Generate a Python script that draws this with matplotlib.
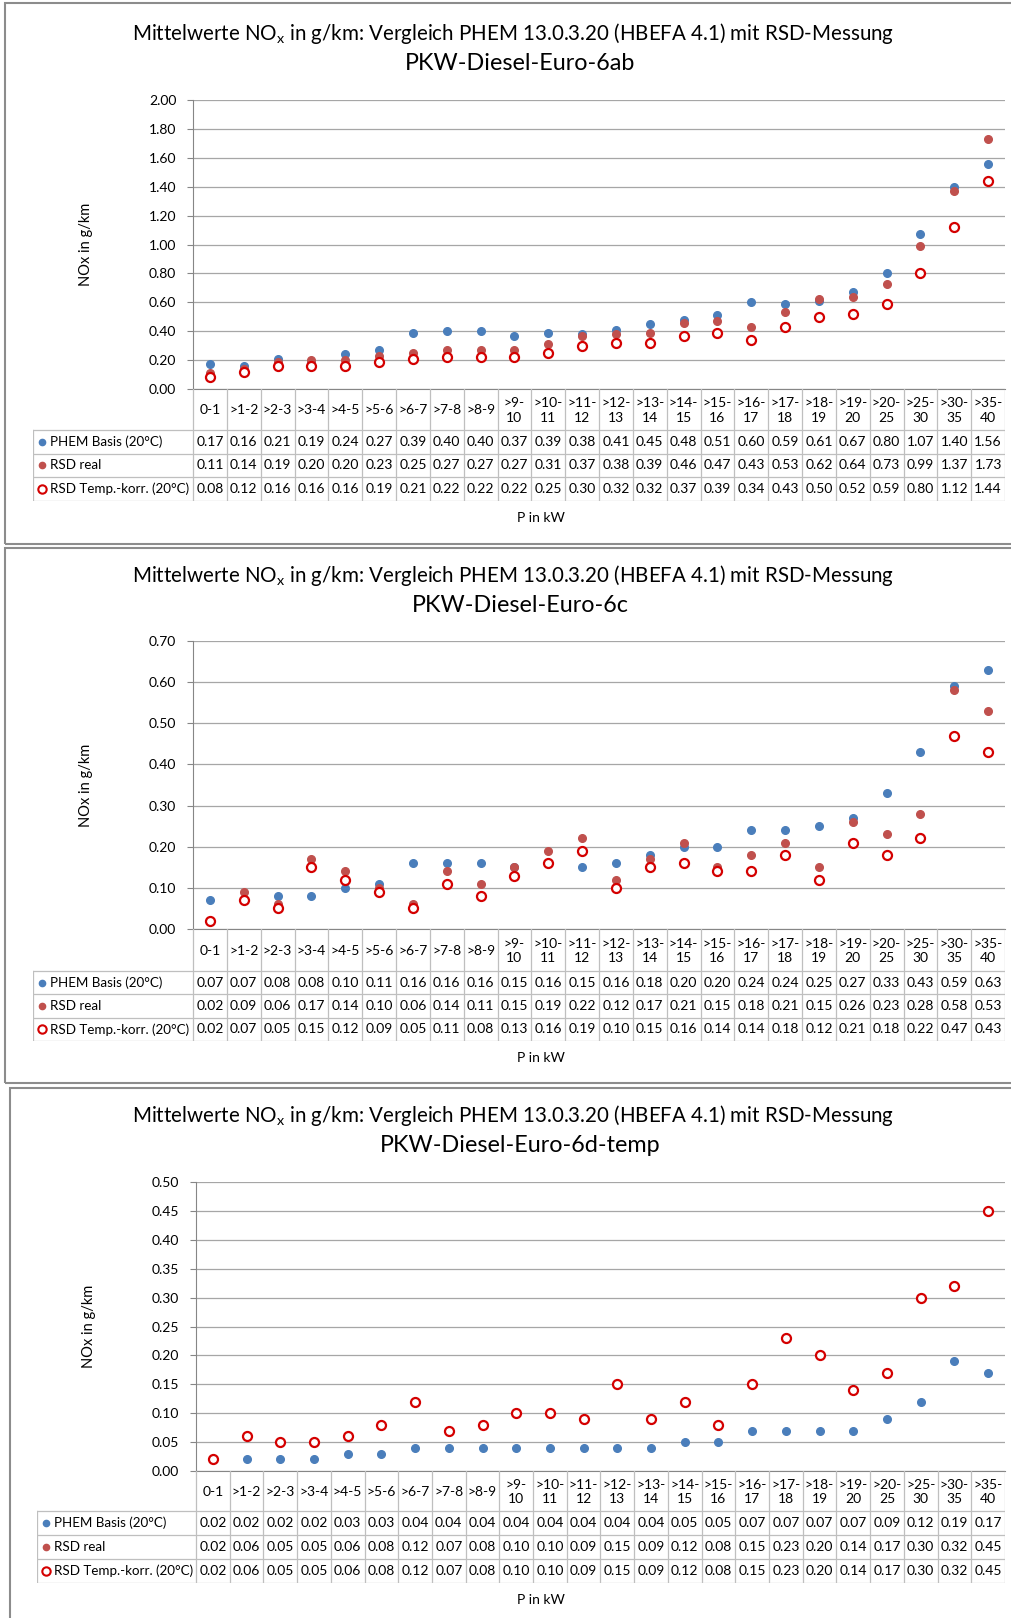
import matplotlib.pyplot as plt
from matplotlib.patches import Rectangle

plt.rcParams['font.family'] = ['Lato', 'DejaVu Sans']
plt.rcParams['mathtext.fontset'] = 'custom'
plt.rcParams['mathtext.rm'] = 'Lato'

W, H = 1011, 1618

# Data
categories = ['0-1', '>1-2', '>2-3', '>3-4', '>4-5', '>5-6', '>6-7', '>7-8', '>8-9',
              '>9-\n10', '>10-\n11', '>11-\n12', '>12-\n13', '>13-\n14', '>14-\n15',
              '>15-\n16', '>16-\n17', '>17-\n18', '>18-\n19', '>19-\n20', '>20-\n25',
              '>25-\n30', '>30-\n35', '>35-\n40']
series_names = ['PHEM Basis (20°C)', 'RSD real', 'RSD Temp.-korr. (20°C)']

phem_6ab = [0.17, 0.16, 0.21, 0.19, 0.24, 0.27, 0.39, 0.40, 0.40, 0.37, 0.39, 0.38,
            0.41, 0.45, 0.48, 0.51, 0.60, 0.59, 0.61, 0.67, 0.80, 1.07, 1.40, 1.56]
real_6ab = [0.11, 0.14, 0.19, 0.20, 0.20, 0.23, 0.25, 0.27, 0.27, 0.27, 0.31, 0.37,
            0.38, 0.39, 0.46, 0.47, 0.43, 0.53, 0.62, 0.64, 0.73, 0.99, 1.37, 1.73]
korr_6ab = [0.08, 0.12, 0.16, 0.16, 0.16, 0.19, 0.21, 0.22, 0.22, 0.22, 0.25, 0.30,
            0.32, 0.32, 0.37, 0.39, 0.34, 0.43, 0.50, 0.52, 0.59, 0.80, 1.12, 1.44]

phem_6c = [0.07, 0.07, 0.08, 0.08, 0.10, 0.11, 0.16, 0.16, 0.16, 0.15, 0.16, 0.15,
           0.16, 0.18, 0.20, 0.20, 0.24, 0.24, 0.25, 0.27, 0.33, 0.43, 0.59, 0.63]
real_6c = [0.02, 0.09, 0.06, 0.17, 0.14, 0.10, 0.06, 0.14, 0.11, 0.15, 0.19, 0.22,
           0.12, 0.17, 0.21, 0.15, 0.18, 0.21, 0.15, 0.26, 0.23, 0.28, 0.58, 0.53]
korr_6c = [0.02, 0.07, 0.05, 0.15, 0.12, 0.09, 0.05, 0.11, 0.08, 0.13, 0.16, 0.19,
           0.10, 0.15, 0.16, 0.14, 0.14, 0.18, 0.12, 0.21, 0.18, 0.22, 0.47, 0.43]

phem_6d = [0.02, 0.02, 0.02, 0.02, 0.03, 0.03, 0.04, 0.04, 0.04, 0.04, 0.04, 0.04,
           0.04, 0.04, 0.05, 0.05, 0.07, 0.07, 0.07, 0.07, 0.09, 0.12, 0.19, 0.17]
real_6d = [0.02, 0.06, 0.05, 0.05, 0.06, 0.08, 0.12, 0.07, 0.08, 0.10, 0.10, 0.09,
           0.15, 0.09, 0.12, 0.08, 0.15, 0.23, 0.20, 0.14, 0.17, 0.30, 0.32, 0.45]
korr_6d = [0.02, 0.06, 0.05, 0.05, 0.06, 0.08, 0.12, 0.07, 0.08, 0.10, 0.10, 0.09,
           0.15, 0.09, 0.12, 0.08, 0.15, 0.23, 0.20, 0.14, 0.17, 0.30, 0.32, 0.45]

blue = '#4A7EBB'
red = '#C0504D'
ring = '#D40000'
grid_c = '#A6A6A6'
tab_c = '#BFBFBF'

# layout of each panel in pixels
panels = [
    dict(sub='PKW-Diesel-Euro-6ab', data=(phem_6ab, real_6ab, korr_6ab), ymax=2.0, step=0.2,
         frame=(5, 3, 544), title_y=(34, 64), plot=(193, 1005, 100, 389), leg_left=33,
         rows=(41, 23.5), pkw_y=518),
    dict(sub='PKW-Diesel-Euro-6c', data=(phem_6c, real_6c, korr_6c), ymax=0.7, step=0.1,
         frame=(5, 548, 1083), title_y=(576, 606), plot=(193, 1005, 641, 929), leg_left=33,
         rows=(42, 23.3), pkw_y=1058),
    dict(sub='PKW-Diesel-Euro-6d-temp', data=(phem_6d, real_6d, korr_6d), ymax=0.5, step=0.05,
         frame=(10, 1088, 1650), title_y=(1116, 1146), plot=(196, 1005, 1182, 1471), leg_left=37,
         rows=(40, 24), pkw_y=1600),
]

fig = plt.figure(figsize=(W / 100, H / 100), dpi=100)
n = len(categories)
x = list(range(n))

for p in panels:
    fl, ft, fb = p['frame']
    fig.patches.append(Rectangle((fl / W, 1 - fb / H), (1040 - fl) / W, (fb - ft) / H,
                                 transform=fig.transFigure, fill=False,
                                 edgecolor='#8C8C8C', linewidth=1.5))
    fig.text(513 / W, 1 - p['title_y'][0] / H,
             'Mittelwerte NO$_\\mathrm{x}$ in g/km: Vergleich PHEM 13.0.3.20 (HBEFA 4.1) mit RSD-Messung',
             ha='center', va='center', fontsize=14.8)
    fig.text(520 / W, 1 - p['title_y'][1] / H, p['sub'], ha='center', va='center', fontsize=16.8)

    l, r, t, b = p['plot']
    ax = fig.add_axes([l / W, 1 - b / H, (r - l) / W, (b - t) / H])
    phem, real, korr = p['data']
    ax.plot(x, phem, 'o', color=blue, markersize=5.5, zorder=3)
    ax.plot(x, real, 'o', color=red, markersize=5.5, zorder=4)
    ax.plot(x, korr, 'o', markerfacecolor='white', markeredgecolor=ring,
            markeredgewidth=1.6, markersize=6.5, zorder=5)
    ax.set_xlim(-0.5, n - 0.5)
    ax.set_ylim(0, p['ymax'])
    nt = int(round(p['ymax'] / p['step']))
    ticks = [i * p['step'] for i in range(nt + 1)]
    ax.set_yticks(ticks)
    ax.set_yticklabels([f'{v:.2f}' for v in ticks], fontsize=10)
    ax.set_xticks([])
    ax.grid(axis='y', color=grid_c, linewidth=0.9)
    ax.set_axisbelow(True)
    for s in ('top', 'right'):
        ax.spines[s].set_visible(False)
    ax.spines['left'].set_color('#868686')
    ax.spines['bottom'].set_color('#868686')
    ax.tick_params(axis='y', length=4, color='#868686', pad=8)
    ax.set_ylabel('NOx in g/km', fontsize=10.5, labelpad=40)

    # data table under the plot
    hc, hr = p['rows']
    total = hc + 3 * hr
    ll = p['leg_left']
    colw = (r - l) / n
    x0 = -0.5 - (l - ll) / colw
    tax = fig.add_axes([ll / W, 1 - (b + total) / H, (r - ll) / W, total / H])
    tax.set_xlim(x0, n - 0.5)
    tax.set_ylim(total, 0)
    tax.axis('off')
    for i in range(n + 1):
        tax.plot([i - 0.5, i - 0.5], [0, total], color=tab_c, linewidth=0.9)
    tax.plot([x0, x0], [hc, total], color=tab_c, linewidth=0.9)
    for k in range(4):
        tax.plot([x0, n - 0.5], [hc + k * hr] * 2, color=tab_c, linewidth=0.9)
    for i, c in enumerate(categories):
        tax.text(i, hc / 2 + 1, c, ha='center', va='center', fontsize=10, linespacing=1.25)
    for k, vals in enumerate(p['data']):
        yc = hc + (k + 0.5) * hr
        for i, v in enumerate(vals):
            tax.text(i, yc, f'{v:.2f}', ha='center', va='center', fontsize=10)
        tax.text(x0 + 17 / colw, yc, series_names[k], ha='left', va='center', fontsize=9.6)
    mx = x0 + 9 / colw
    tax.plot([mx], [hc + 0.5 * hr], 'o', color=blue, markersize=4.5, clip_on=False)
    tax.plot([mx], [hc + 1.5 * hr], 'o', color=red, markersize=4.5, clip_on=False)
    tax.plot([mx], [hc + 2.5 * hr], 'o', markerfacecolor='white', markeredgecolor=ring,
             markeredgewidth=1.5, markersize=6, clip_on=False)

    fig.text(541 / W, 1 - p['pkw_y'] / H, 'P in kW', ha='center', va='center', fontsize=10)

fig.savefig('out.png', dpi=100)
